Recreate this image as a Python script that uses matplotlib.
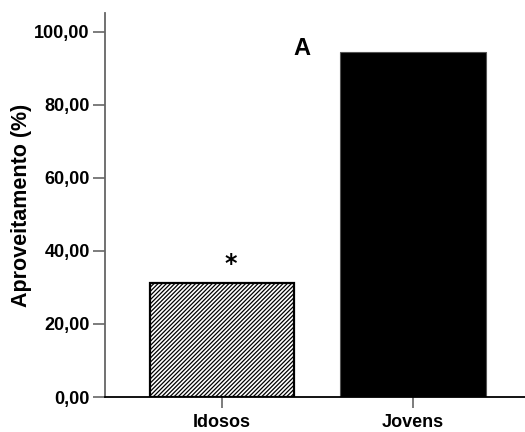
import matplotlib
matplotlib.use("Agg")
import matplotlib.pyplot as plt

categories = ["Idosos", "Jovens"]
values = [31.3, 94.4]
yticks = [0, 20, 40, 60, 80, 100]
ytick_labels = ["0,00", "20,00", "40,00", "60,00", "80,00", "100,00"]

plt.rcParams["font.family"] = ["Liberation Sans", "DejaVu Sans"]
plt.rcParams["font.weight"] = "bold"
plt.rcParams["hatch.linewidth"] = 0.9

fig = plt.figure(figsize=(5.25, 4.32), dpi=100)
ax = fig.add_axes([0.2, 0.081, 0.8, 0.889])

x = list(range(len(categories)))
ax.bar(x[0], values[0], width=0.755, facecolor="white", edgecolor="black",
       linewidth=1.6, hatch="/" * 8)
ax.bar(x[1], values[1], width=0.765, facecolor="black", edgecolor="#555555",
       linewidth=0.8)

ax.set_xlim(-0.613, 1.586)
ax.set_ylim(0, 105.2)
ax.set_yticks(yticks)
ax.set_yticklabels(ytick_labels)
ax.set_xticks(x)
ax.set_xticklabels(categories)

for side in ("top", "right"):
    ax.spines[side].set_visible(False)
ax.spines["left"].set_color("#666666")
ax.spines["left"].set_linewidth(1.3)
ax.spines["bottom"].set_color("black")
ax.spines["bottom"].set_linewidth(1.3)

ax.tick_params(axis="y", length=9, width=1.2, color="#666666", pad=2,
               labelsize=13)
ax.tick_params(axis="x", length=8, width=1.2, color="#666666", pad=4,
               labelsize=13)
for lbl in ax.get_xticklabels() + ax.get_yticklabels():
    lbl.set_fontweight("bold")

ax.set_ylabel("Aproveitamento (%)", fontsize=15.5, fontweight="bold",
              va="center")
ax.yaxis.set_label_coords(-0.198, 0.5)

ax.text(x[0] + 0.045, values[0] + 5.0, "*", ha="center", va="center",
        fontsize=17, fontweight="bold", family="DejaVu Sans")
ax.text(0.42, 95.5, "A", ha="center", va="center", fontsize=17,
        fontweight="bold")

fig.savefig("out.png", dpi=100, facecolor="white")
